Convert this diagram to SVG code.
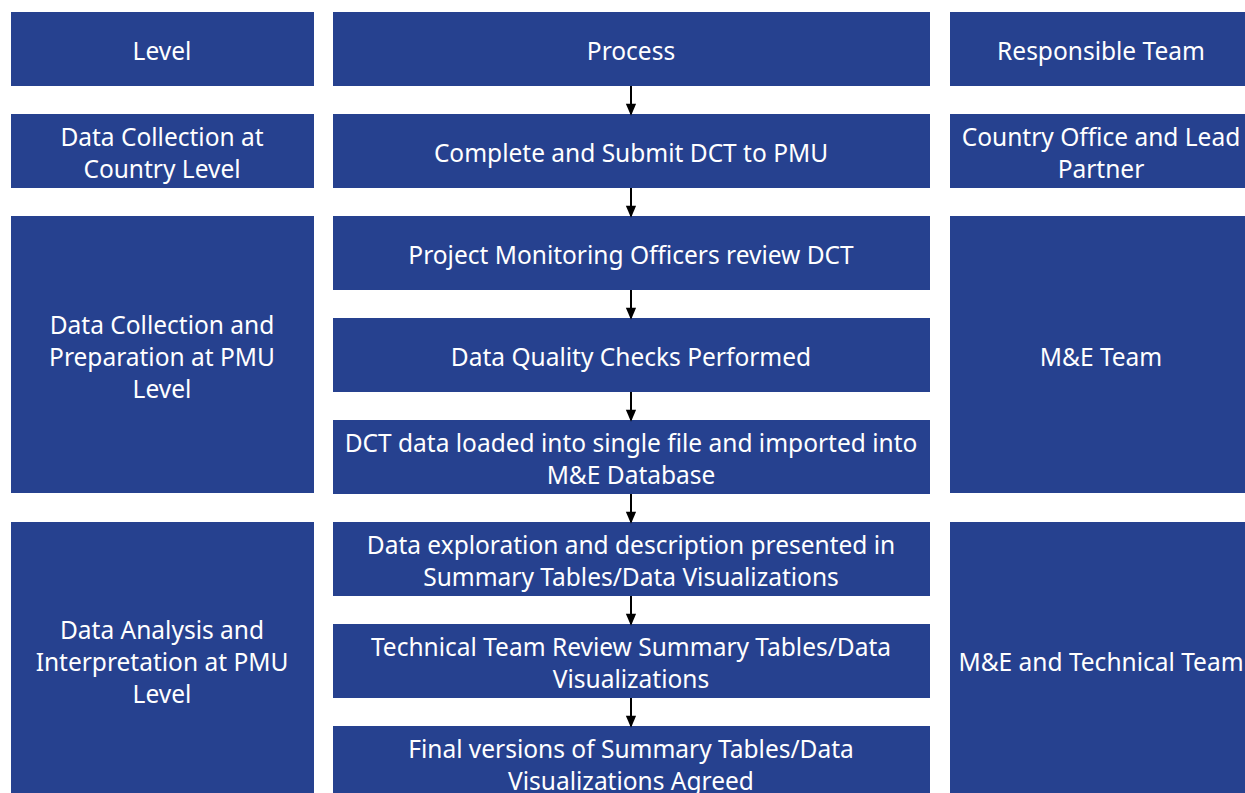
<svg xmlns="http://www.w3.org/2000/svg" width="1245" height="793" viewBox="0 0 1245 793">
  <defs>
    <style>
      .box { fill: #26418F; }
      .t { fill: #ffffff; font-family: "Noto Sans", "Liberation Sans", sans-serif; font-size: 24.5px; text-anchor: middle; }
      .conn { stroke: #000000; stroke-width: 2; fill: none; marker-end: url(#arrow); }
    </style>
    <marker id="arrow" viewBox="0 0 12 14" refX="12" refY="6" markerWidth="14" markerHeight="12" markerUnits="userSpaceOnUse" orient="auto">
      <path d="M0,0 L14,6 L0,12 Z" fill="#000000"/>
    </marker>
  </defs>
  <rect width="1245" height="793" fill="#ffffff"/>

  <!-- header row -->
  <g id="hdr-level"><rect class="box" x="11" y="12" width="303" height="74"/><text class="t" x="162" y="60">Level</text></g>
  <g id="hdr-process"><rect class="box" x="333" y="12" width="597" height="74"/><text class="t" x="631" y="60">Process</text></g>
  <g id="hdr-team"><rect class="box" x="950" y="12" width="295" height="74"/><text class="t" x="1101" y="60">Responsible Team</text></g>

  <!-- country level -->
  <g id="lvl-country"><rect class="box" x="11" y="114" width="303" height="74"/><text class="t" x="162" y="146">Data Collection at</text><text class="t" x="162" y="178">Country Level</text></g>
  <g id="p-submit"><rect class="box" x="333" y="114" width="597" height="74"/><text class="t" x="631" y="162">Complete and Submit DCT to PMU</text></g>
  <g id="team-country"><rect class="box" x="950" y="114" width="295" height="74"/><text class="t" x="1101" y="146">Country Office and Lead</text><text class="t" x="1101" y="178">Partner</text></g>

  <!-- PMU preparation -->
  <g id="lvl-prep"><rect class="box" x="11" y="216" width="303" height="277"/><text class="t" x="162" y="334">Data Collection and</text><text class="t" x="162" y="366">Preparation at PMU</text><text class="t" x="162" y="398">Level</text></g>
  <g id="p-review"><rect class="box" x="333" y="216" width="597" height="74"/><text class="t" x="631" y="264">Project Monitoring Officers review DCT</text></g>
  <g id="p-quality"><rect class="box" x="333" y="318" width="597" height="74"/><text class="t" x="631" y="366">Data Quality Checks Performed</text></g>
  <g id="p-load"><rect class="box" x="333" y="420" width="597" height="74"/><text class="t" x="631" y="452">DCT data loaded into single file and imported into</text><text class="t" x="631" y="484">M&amp;E Database</text></g>
  <g id="team-me"><rect class="box" x="950" y="216" width="295" height="277"/><text class="t" x="1101" y="366">M&amp;E Team</text></g>

  <!-- PMU analysis -->
  <g id="lvl-analysis"><rect class="box" x="11" y="522" width="303" height="271"/><text class="t" x="162" y="639">Data Analysis and</text><text class="t" x="162" y="671">Interpretation at PMU</text><text class="t" x="162" y="703">Level</text></g>
  <g id="p-explore"><rect class="box" x="333" y="522" width="597" height="74"/><text class="t" x="631" y="554">Data exploration and description presented in</text><text class="t" x="631" y="586">Summary Tables/Data Visualizations</text></g>
  <g id="p-techreview"><rect class="box" x="333" y="624" width="597" height="74"/><text class="t" x="631" y="656">Technical Team Review Summary Tables/Data</text><text class="t" x="631" y="688">Visualizations</text></g>
  <g id="p-final"><rect class="box" x="333" y="726" width="597" height="74"/><text class="t" x="631" y="758">Final versions of Summary Tables/Data</text><text class="t" x="631" y="790">Visualizations Agreed</text></g>
  <g id="team-metech"><rect class="box" x="950" y="522" width="295" height="271"/><text class="t" x="1101" y="671">M&amp;E and Technical Team</text></g>

  <!-- connectors -->
  <g id="connectors">
    <line class="conn" x1="631" y1="86" x2="631" y2="114"/>
    <line class="conn" x1="631" y1="188" x2="631" y2="216"/>
    <line class="conn" x1="631" y1="290" x2="631" y2="318"/>
    <line class="conn" x1="631" y1="392" x2="631" y2="420"/>
    <line class="conn" x1="631" y1="494" x2="631" y2="522"/>
    <line class="conn" x1="631" y1="596" x2="631" y2="624"/>
    <line class="conn" x1="631" y1="698" x2="631" y2="726"/>
  </g>
</svg>
